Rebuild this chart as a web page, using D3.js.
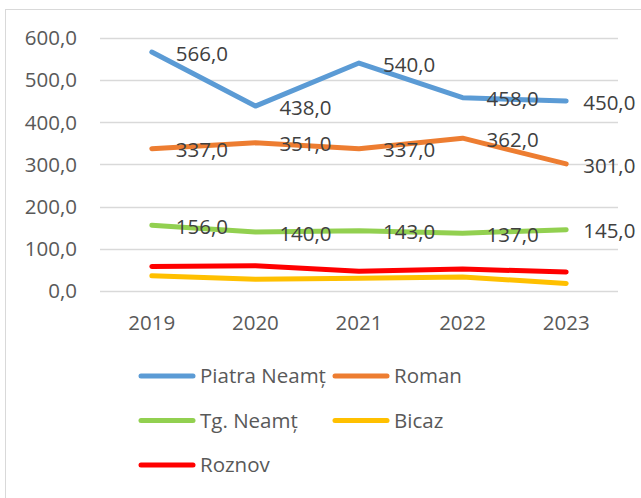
<!DOCTYPE html>
<html>
<head>
<meta charset="utf-8">
<script src="https://cdn.jsdelivr.net/npm/d3@7"></script>
<style>
  body { margin: 0; background: white; }
  text { font-family: 'Open Sans', sans-serif; }
</style>
</head>
<body>
<svg id="chart" width="641" height="498"></svg>
<script>
/* DATA */

const years = ['2019', '2020', '2021', '2022', '2023']
const seriesNames = ['Piatra Neamț', 'Roman', 'Tg. Neamț', 'Bicaz', 'Roznov']
const piatraNeamt = [566, 438, 540, 458, 450]
const roman = [337, 351, 337, 362, 301]
const tgNeamt = [156, 140, 143, 137, 145]
const bicaz = [36, 28, 30, 33, 18]
const roznov = [58, 60, 47, 52, 45]
const yTicks = [0, 100, 200, 300, 400, 500, 600]
const labelled = ['Piatra Neamț', 'Roman', 'Tg. Neamț']

/* COLOURS */

const seriesColours = ['#5b9bd5', '#ed7d31', '#92d050', '#ffc000', '#ff0000']
const gridGrey = '#d9d9d9'
const axisText = '#595959'
const labelText = '#404040'

const series = seriesNames.map((name, i) => ({
  name: name,
  values: [piatraNeamt, roman, tgNeamt, bicaz, roznov][i],
  colour: seriesColours[i]
}))

const ro = d3.formatLocale({ decimal: ',', thousands: '.', grouping: [3], currency: ['', ' lei'] })
const fmt = ro.format('.1f')

/* CHART */

const svg = d3.select('#chart')

// Chart area border (right and bottom edges run off the picture)
svg.append('rect')
  .attr('x', 5.5)
  .attr('y', 9.5)
  .attr('width', 700)
  .attr('height', 600)
  .attr('fill', 'white')
  .attr('stroke', gridGrey)
  .attr('stroke-width', 1)

const x = d3.scalePoint()
  .domain(years)
  .range([100, 618])
  .padding(0.5)

const y = d3.scaleLinear()
  .domain([0, 600])
  .range([291, 37.7])

// Gridlines
svg.append('g')
  .selectAll('line')
  .data(yTicks)
  .enter().append('line')
    .attr('x1', 100)
    .attr('x2', 618)
    .attr('y1', d => Math.round(y(d)) + 0.5)
    .attr('y2', d => Math.round(y(d)) + 0.5)
    .attr('stroke', gridGrey)
    .attr('stroke-width', 1.3)

// Y axis labels
svg.append('g')
  .selectAll('text')
  .data(yTicks)
  .enter().append('text')
    .attr('x', 77)
    .attr('y', d => y(d))
    .attr('dy', '0.36em')
    .attr('text-anchor', 'end')
    .attr('font-size', 20.5)
    .attr('fill', axisText)
    .text(d => fmt(d))

// X axis labels
svg.append('g')
  .selectAll('text')
  .data(years)
  .enter().append('text')
    .attr('x', d => x(d))
    .attr('y', 322.5)
    .attr('dy', '0.36em')
    .attr('text-anchor', 'middle')
    .attr('font-size', 20.5)
    .attr('fill', axisText)
    .text(d => d)

// Lines
const line = d3.line()
  .x((d, i) => x(years[i]))
  .y(d => y(d))

svg.append('g')
  .selectAll('path')
  .data(series)
  .enter().append('path')
    .attr('d', d => line(d.values))
    .attr('fill', 'none')
    .attr('stroke', d => d.colour)
    .attr('stroke-width', 5)
    .attr('stroke-linejoin', 'round')
    .attr('stroke-linecap', 'round')

// Data labels (right of each point, last one pulled in)
series.filter(s => labelled.includes(s.name)).forEach(s => {
  svg.append('g')
    .selectAll('text')
    .data(s.values)
    .enter().append('text')
      .attr('x', (d, i) => x(years[i]) + (i === years.length - 1 ? 17 : 24))
      .attr('y', d => y(d))
      .attr('dy', '0.42em')
      .attr('font-size', 20.5)
      .attr('fill', labelText)
      .text(d => fmt(d))
})

// Legend: two columns, three rows
const legend = svg.append('g')
  .selectAll('g')
  .data(series)
  .enter().append('g')
    .attr('transform', (d, i) => `translate(${139 + (i % 2) * 194}, ${376 + Math.floor(i / 2) * 44.5})`)

legend.append('line')
  .attr('x1', 2)
  .attr('x2', 54)
  .attr('stroke', d => d.colour)
  .attr('stroke-width', 5)
  .attr('stroke-linecap', 'round')

legend.append('text')
  .attr('x', 61)
  .attr('dy', '0.36em')
  .attr('font-size', 20.5)
  .attr('fill', axisText)
  .text(d => d.name)
</script>
</body>
</html>
